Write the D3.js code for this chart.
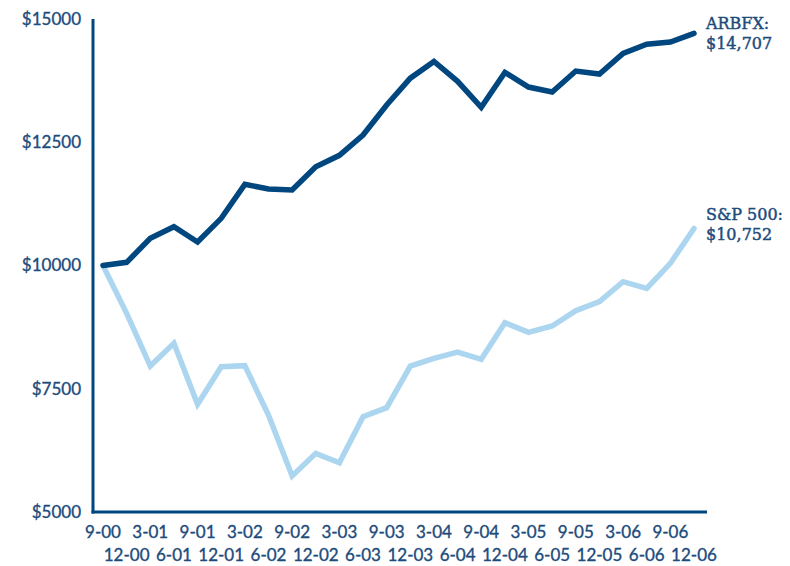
<!DOCTYPE html>
<html>
<head>
<meta charset="utf-8">
<script src="https://cdn.jsdelivr.net/npm/d3@7"></script>
<style>
  html, body { margin: 0; padding: 0; background: #fff; }
  svg { display: block; }
</style>
</head>
<body>
<svg id="chart" width="790" height="566"></svg>
<script>
const quarters = ["9-00","12-00","3-01","6-01","9-01","12-01","3-02","6-02","9-02","12-02","3-03","6-03","9-03","12-03","3-04","6-04","9-04","12-04","3-05","6-05","9-05","12-05","3-06","6-06","9-06","12-06"];
const arbfx = [10000,10064,10550,10787,10477,10957,11646,11552,11531,12004,12235,12647,13256,13800,14140,13736,13209,13917,13620,13519,13945,13884,14304,14487,14533,14707];
const sp500 = [10000,9030,7961,8422,7184,7947,7968,6968,5730,6190,6000,6933,7116,7961,8118,8245,8097,8840,8645,8773,9083,9266,9671,9537,10045,10752];
const yTicks = [5000,7500,10000,12500,15000];
const endLabels = [["ARBFX:","$14,707"],["S&P 500:","$10,752"]];

const navy = "#00467f";
const light = "#acd6f0";
const textCol = "#1d4b7b";

const svg = d3.select("#chart");
const x = d3.scalePoint().domain(quarters).range([103, 694]);
const y = d3.scaleLinear().domain([5000, 15000]).range([512, 19]);

// axes lines
svg.append("line").attr("x1", 93).attr("x2", 93).attr("y1", 19).attr("y2", 513.5)
  .attr("stroke", navy).attr("stroke-width", 3);
svg.append("line").attr("x1", 91.5).attr("x2", 707).attr("y1", 512).attr("y2", 512)
  .attr("stroke", navy).attr("stroke-width", 3);

// y tick labels
svg.append("g").selectAll("text").data(yTicks).join("text")
  .attr("x", 81).attr("y", d => y(d)).attr("dy", "0.35em")
  .attr("text-anchor", "end")
  .attr("font-family", "Lato, 'Open Sans', sans-serif").attr("font-size", 17)
  .attr("fill", textCol).attr("stroke", textCol).attr("stroke-width", 0.35)
  .text(d => "$" + d);

// x tick labels, alternating rows
svg.append("g").selectAll("text").data(quarters).join("text")
  .attr("x", d => x(d))
  .attr("y", (d, i) => i % 2 === 0 ? 538 : 561)
  .attr("text-anchor", "middle")
  .attr("font-family", "Lato, 'Open Sans', sans-serif").attr("font-size", 17)
  .attr("fill", textCol).attr("stroke", textCol).attr("stroke-width", 0.35)
  .text(d => d);

const line = d3.line().x((d, i) => x(quarters[i])).y(d => y(d));

svg.append("path").datum(sp500).attr("d", line)
  .attr("fill", "none").attr("stroke", light).attr("stroke-width", 5.5)
  .attr("stroke-linejoin", "miter").attr("stroke-linecap", "round");
svg.append("path").datum(arbfx).attr("d", line)
  .attr("fill", "none").attr("stroke", navy).attr("stroke-width", 5.5)
  .attr("stroke-linejoin", "miter").attr("stroke-linecap", "round");

// end labels
const baseY = [29, 220];
endLabels.forEach((lines, k) => {
  const t = svg.append("text")
    .attr("x", 706).attr("y", baseY[k])
    .attr("font-family", "'DejaVu Serif', serif").attr("font-size", 16)
    .attr("fill", textCol).attr("stroke", textCol).attr("stroke-width", 0.45);
  lines.forEach((s, j) => {
    t.append("tspan").attr("x", 706).attr("dy", j === 0 ? 0 : 20).text(s);
  });
});
</script>
</body>
</html>
